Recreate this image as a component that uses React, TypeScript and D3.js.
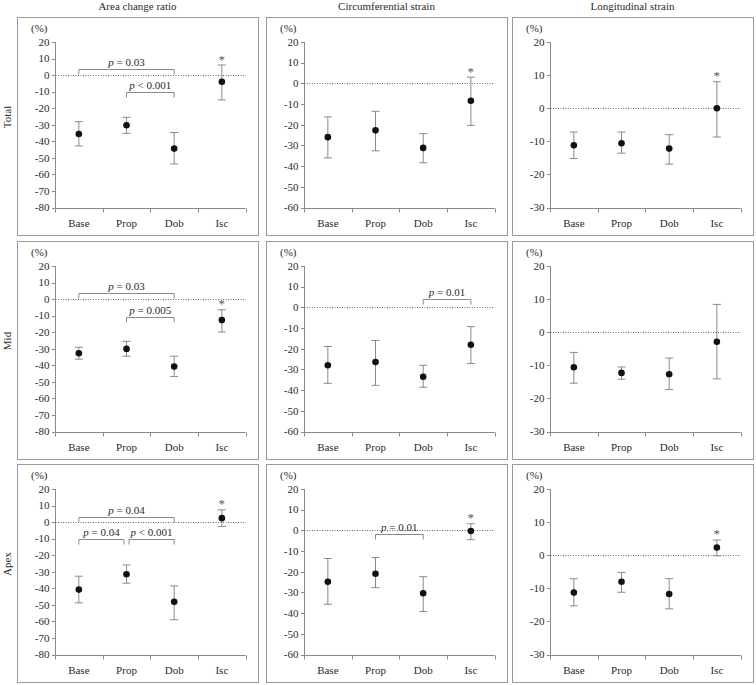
import React from "react";
import * as d3 from "d3";

const categories = ["Base", "Prop", "Dob", "Isc"];
const columnTitles = ["Area change ratio", "Circumferential strain", "Longitudinal strain"];
const rowLabels = ["Total", "Mid", "Apex"];
const yMinByColumn = [-80, -60, -30];
const yMax = 20;
const yStep = 10;

// mean, lower bound, upper bound per category (Base, Prop, Dob, Isc)
const areaTotalMean = [-35.6, -30.3, -44.4, -4.0];
const areaTotalLow = [-42.8, -35.2, -53.7, -15.0];
const areaTotalHigh = [-28.1, -25.5, -34.7, 6.1];

const circTotalMean = [-26.0, -22.7, -31.2, -8.4];
const circTotalLow = [-36.0, -32.6, -38.4, -20.3];
const circTotalHigh = [-16.2, -13.5, -24.3, 3.0];

const longTotalMean = [-11.2, -10.6, -12.2, 0.0];
const longTotalLow = [-15.2, -13.6, -16.9, -8.7];
const longTotalHigh = [-7.2, -7.2, -8.0, 8.0];

const areaMidMean = [-32.7, -30.1, -40.8, -12.7];
const areaMidLow = [-36.3, -34.5, -46.8, -19.9];
const areaMidHigh = [-29.1, -25.5, -34.5, -6.4];

const circMidMean = [-28.0, -26.4, -33.5, -18.1];
const circMidLow = [-36.7, -37.7, -38.6, -27.1];
const circMidHigh = [-18.9, -16.0, -28.0, -9.3];

const longMidMean = [-10.6, -12.3, -12.7, -2.9];
const longMidLow = [-15.4, -14.2, -17.3, -14.1];
const longMidHigh = [-6.1, -10.5, -7.8, 8.4];

const areaApexMean = [-40.8, -31.5, -48.2, 2.4];
const areaApexLow = [-48.8, -36.9, -59.0, -2.6];
const areaApexHigh = [-32.7, -25.9, -38.6, 7.4];

const circApexMean = [-24.8, -21.0, -30.4, -0.3];
const circApexLow = [-35.7, -27.7, -39.2, -4.5];
const circApexHigh = [-13.6, -13.1, -22.4, 3.2];

const longApexMean = [-11.3, -8.0, -11.7, 2.3];
const longApexLow = [-15.3, -11.2, -16.2, -0.2];
const longApexHigh = [-7.1, -5.2, -7.1, 4.6];

// star (significance vs. others) on Isc per panel [row][col]
const starOnIsc = [
  [true, true, true],
  [true, false, false],
  [true, true, true],
];

// brackets: [row, col, fromCategory, toCategory, yValue, operator, pValue, side]
type Bracket = [number, number, string, string, number, string, string, number];
const brackets: Bracket[] = [
  [0, 0, "Base", "Dob", 3.6, "=", "0.03", 0],
  [0, 0, "Prop", "Dob", -10.3, "<", "0.001", 0],
  [1, 0, "Base", "Dob", 3.4, "=", "0.03", 0],
  [1, 0, "Prop", "Dob", -11.0, "=", "0.005", 0],
  [1, 1, "Dob", "Isc", 4.0, "=", "0.01", 0],
  [2, 0, "Base", "Dob", 2.8, "=", "0.04", 0],
  [2, 0, "Base", "Prop", -10.4, "=", "0.04", -1],
  [2, 0, "Prop", "Dob", -10.4, "<", "0.001", 1],
  [2, 1, "Prop", "Dob", -1.6, "=", "0.01", 0],
];

const means = [
  [areaTotalMean, circTotalMean, longTotalMean],
  [areaMidMean, circMidMean, longMidMean],
  [areaApexMean, circApexMean, longApexMean],
];
const lows = [
  [areaTotalLow, circTotalLow, longTotalLow],
  [areaMidLow, circMidLow, longMidLow],
  [areaApexLow, circApexLow, longApexLow],
];
const highs = [
  [areaTotalHigh, circTotalHigh, longTotalHigh],
  [areaMidHigh, circMidHigh, longMidHigh],
  [areaApexHigh, circApexHigh, longApexHigh],
];

const W = 756;
const H = 685;
const colLeft = [17, 266, 512];
const rowTop = [17, 241, 464];
const boxW = 241;
const boxH = 218;
const plotL = 38;
const plotR = 228.7;
const plotT = 25;
const plotB = 190.5;

const FONT = "'Liberation Serif', 'DejaVu Serif', serif";
const TEXT = "#2a2a2a";
const GRAY = "#8a8a8a";

function Panel({ row, col }: { row: number; col: number }) {
  const x0 = colLeft[col];
  const y0 = rowTop[row];
  const x = d3.scaleBand<string>().domain(categories).range([x0 + plotL, x0 + plotR]);
  const y = d3.scaleLinear().domain([yMinByColumn[col], yMax]).range([y0 + plotB, y0 + plotT]);
  const ticks = d3.range(yMinByColumn[col], yMax + 0.001, yStep);
  const xb = [...categories.map((c) => x(c) as number), x.range()[1]];
  const cx = (c: string) => (x(c) as number) + x.bandwidth() / 2;
  const m = means[row][col];
  const lo = lows[row][col];
  const hi = highs[row][col];
  const axisX = Math.round(x.range()[0]) + 0.5;
  const axisY = Math.round(y.range()[0]) + 0.5;
  return (
    <g>
      <rect x={x0 + 0.5} y={y0 + 0.5} width={boxW} height={boxH} fill="white" stroke="#9a9a9a" strokeWidth={1} />
      <text x={x0 + 14} y={y0 + 15} fontFamily={FONT} fontSize={11} fill={TEXT}>(%)</text>
      {/* y axis */}
      <line x1={axisX} x2={axisX} y1={y.range()[1]} y2={axisY} stroke={GRAY} strokeWidth={1} />
      {ticks.map((t) => (
        <g key={t}>
          <line x1={axisX - 3.5} x2={axisX} y1={Math.round(y(t)) + 0.5} y2={Math.round(y(t)) + 0.5} stroke={GRAY} />
          <text x={axisX - 6} y={y(t) + 3.8} textAnchor="end" fontFamily={FONT} fontSize={11} fill={TEXT}>
            {t}
          </text>
        </g>
      ))}
      {/* x axis */}
      <line x1={axisX} x2={x.range()[1]} y1={axisY} y2={axisY} stroke={GRAY} />
      {xb.map((b, i) => (
        <line key={i} x1={Math.round(b) + 0.5} x2={Math.round(b) + 0.5} y1={axisY} y2={axisY + 4} stroke={GRAY} />
      ))}
      {categories.map((c) => (
        <text key={c} x={cx(c)} y={y.range()[0] + 19} textAnchor="middle" fontFamily={FONT} fontSize={11} fill={TEXT}>
          {c}
        </text>
      ))}
      {/* zero line */}
      <line x1={axisX} x2={x.range()[1]} y1={Math.round(y(0)) + 0.5} y2={Math.round(y(0)) + 0.5} stroke="#666" strokeDasharray="1,1.5" />
      {/* brackets */}
      {brackets
        .filter((b) => b[0] === row && b[1] === col)
        .map((b, i) => {
          const xa = cx(b[2]) + (b[7] === 1 ? 2.5 : 0);
          const xz = cx(b[3]) + (b[7] === -1 ? -2.5 : 0);
          const yy = Math.round(y(b[4])) + 0.5;
          return (
            <g key={i}>
              <path d={`M${xa},${yy + 5}V${yy}H${xz}V${yy + 5}`} fill="none" stroke={GRAY} />
              <text x={(xa + xz) / 2} y={yy - 4} textAnchor="middle" fontFamily={FONT} fontSize={11} fill={TEXT}>
                <tspan fontStyle="italic">p</tspan>
                {` ${b[5]} ${b[6]}`}
              </text>
            </g>
          );
        })}
      {/* error bars and points */}
      {categories.map((c, i) => (
        <g key={c}>
          <line x1={cx(c)} x2={cx(c)} y1={y(lo[i])} y2={y(hi[i])} stroke={GRAY} />
          <line x1={cx(c) - 4} x2={cx(c) + 4} y1={y(lo[i])} y2={y(lo[i])} stroke={GRAY} />
          <line x1={cx(c) - 4} x2={cx(c) + 4} y1={y(hi[i])} y2={y(hi[i])} stroke={GRAY} />
          <circle cx={cx(c)} cy={y(m[i])} r={3.3} fill="#111" />
        </g>
      ))}
      {starOnIsc[row][col] && (
        <text x={cx("Isc")} y={y(hi[3]) - 1.5} textAnchor="middle" fontFamily={FONT} fontSize={13} fill="#555">
          *
        </text>
      )}
    </g>
  );
}

export default function App() {
  return (
    <div style={{ position: "absolute", left: 0, top: 0 }}>
      <svg width={W} height={H} style={{ display: "block", background: "white" }}>
        {columnTitles.map((t, c) => (
          <text key={t} x={colLeft[c] + boxW / 2} y={10} textAnchor="middle" fontFamily={FONT} fontSize={11} fill={TEXT}>
            {t}
          </text>
        ))}
        {rowLabels.map((r, i) => (
          <text
            key={r}
            transform={`translate(11,${rowTop[i] + 100}) rotate(-90)`}
            textAnchor="middle"
            fontFamily={FONT}
            fontSize={11}
            fill={TEXT}
          >
            {r}
          </text>
        ))}
        {[0, 1, 2].map((r) => [0, 1, 2].map((c) => <Panel key={`${r}-${c}`} row={r} col={c} />))}
      </svg>
    </div>
  );
}
